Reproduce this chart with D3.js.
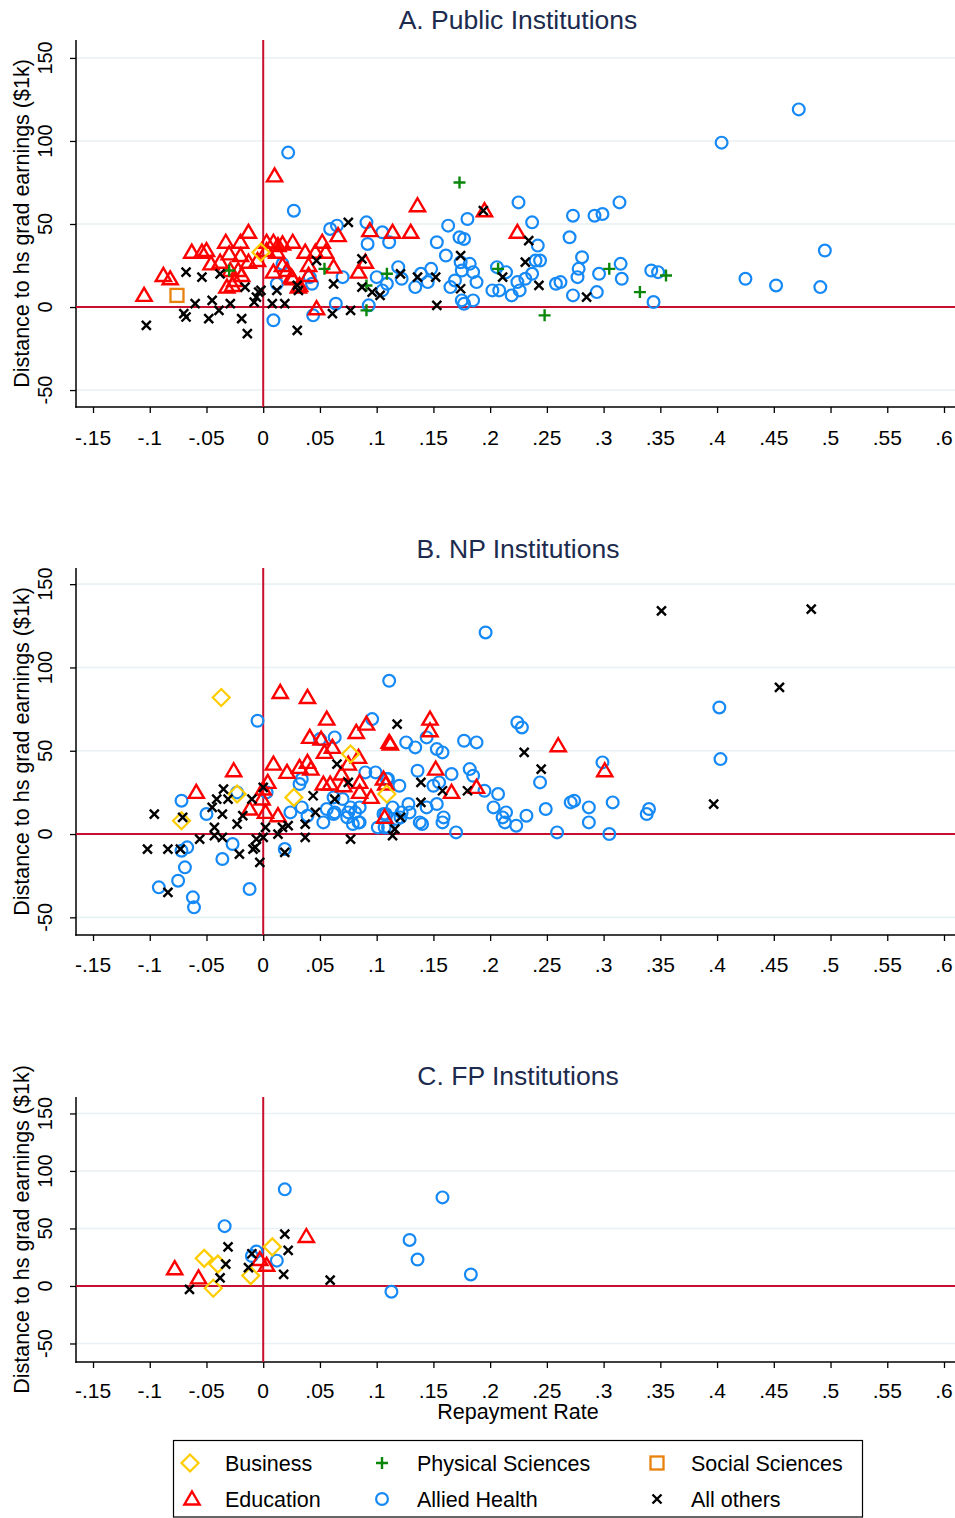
<!DOCTYPE html>
<html><head><meta charset="utf-8">
<script src="https://cdn.jsdelivr.net/npm/d3@7"></script>
<style>body{margin:0;background:#fff}svg{display:block}text{font-family:"Liberation Sans",Arial,sans-serif}</style>
</head><body><svg id="c" width="955" height="1518"></svg>
<script>
// ---------- data ----------
const categories = ["Business","Education","Physical Sciences","Social Sciences","Allied Health","All others"];
const panelTitles = ["A. Public Institutions","B. NP Institutions","C. FP Institutions"];
const xTicks = [-0.15,-0.1,-0.05,0,0.05,0.1,0.15,0.2,0.25,0.3,0.35,0.4,0.45,0.5,0.55,0.6];
const xTickLabels = ["-.15","-.1","-.05","0",".05",".1",".15",".2",".25",".3",".35",".4",".45",".5",".55",".6"];
const yTicks = [-50,0,50,100,150];

// Panel A: Public
const pubBusiness = [[-0.002,33]];
const pubEducation = [[0.010,79],[-0.013,45],[-0.033,39],[-0.020,39],[-0.063,33],[-0.054,33],[-0.050,34],[-0.038,27],[-0.046,26],[-0.030,32],[-0.020,31],[-0.013,27],[-0.005,28],[0.003,39],[0.009,39],[0.013,37],[0.017,38],[0.026,39],[0.037,33],[0.046,33],[0.052,39],[0.055,33],[0.066,43],[0.094,46],[0.114,45],[0.130,45],[0.136,61],[0.195,58],[0.224,45],[0.090,27],[0.084,21],[0.062,24],[0.040,25],[0.040,19],[0.032,13],[0.025,18],[0.009,21],[0.017,25],[0.021,22],[-0.029,22],[-0.022,22],[-0.019,19],[-0.025,16],[-0.032,12],[-0.027,13],[-0.088,19],[-0.082,17],[-0.105,7],[0.047,-1],[0.003,34],[0.012,33],[0.026,17],[0.031,12]];
const pubPhysical = [[-0.030,22],[0.054,23],[0.091,13],[0.091,-2],[0.109,20],[0.173,75],[0.207,23],[0.248,-5],[0.305,23],[0.332,9],[0.355,19]];
const pubSocial = [[-0.076,7]];
const pubHealth = [[0.022,93],[0.027,58],[0.009,-8],[0.012,14],[0.017,26],[0.041,18],[0.043,14],[0.044,-5],[0.059,47],[0.065,49],[0.070,18],[0.064,2],[0.091,51],[0.092,38],[0.093,1],[0.100,18],[0.105,45],[0.105,10],[0.111,39],[0.109,14],[0.119,24],[0.122,17],[0.134,12],[0.139,20],[0.145,15],[0.148,23],[0.153,39],[0.161,31],[0.163,49],[0.165,12],[0.169,16],[0.173,42],[0.175,22],[0.174,27],[0.175,4],[0.177,2],[0.177,41],[0.180,53],[0.182,26],[0.185,21],[0.188,15],[0.185,4],[0.202,10],[0.206,24],[0.208,10],[0.214,21],[0.219,7],[0.224,15],[0.225,63],[0.226,10],[0.231,17],[0.237,20],[0.237,51],[0.240,28],[0.244,28],[0.242,37],[0.258,14],[0.262,15],[0.270,42],[0.273,55],[0.273,7],[0.277,18],[0.278,23],[0.281,30],[0.292,55],[0.294,9],[0.296,20],[0.299,56],[0.314,63],[0.315,26],[0.316,17],[0.342,22],[0.348,21],[0.344,3],[0.404,99],[0.472,119],[0.425,17],[0.452,13],[0.491,12],[0.495,34]];
const pubOthers = [[-0.103,-11],[-0.068,21],[-0.054,18],[-0.070,-4],[-0.068,-6],[-0.060,2],[-0.048,-7],[-0.045,4],[-0.039,-2],[-0.029,2],[-0.019,-7],[-0.014,-16],[-0.008,3],[-0.006,6],[-0.004,9],[-0.002,10],[0.008,2],[0.019,2],[0.030,-14],[0.031,10],[0.030,13],[0.012,10],[-0.038,20],[-0.016,12],[0.062,14],[0.061,-4],[0.077,-2],[0.075,51],[0.087,29],[0.087,12],[0.096,9],[0.103,7],[0.121,20],[0.136,18],[0.152,18],[0.153,1],[0.174,31],[0.174,11],[0.194,58],[0.234,40],[0.231,27],[0.243,13],[0.285,6],[0.211,18],[0.047,28]];

// Panel B: NP
const npBusiness = [[-0.037,82],[-0.023,24],[-0.072,8],[0.027,22],[0.077,48],[0.109,24]];
const npEducation = [[0.015,85],[0.039,82],[0.056,69],[0.082,61],[0.091,66],[0.041,58],[0.051,57],[0.061,52],[0.054,49],[0.084,46],[0.075,42],[0.069,36],[0.111,55],[0.112,54],[0.009,42],[0.021,37],[0.032,40],[0.039,43],[0.042,39],[-0.026,38],[-0.059,25],[0.004,31],[0.000,27],[-0.001,21],[-0.012,15],[0.002,13],[0.013,11],[0.053,30],[0.059,30],[0.071,29],[0.085,31],[0.085,25],[0.095,22],[0.106,33],[0.108,30],[0.107,10],[0.147,69],[0.147,62],[0.152,39],[0.166,25],[0.188,28],[0.260,53],[0.301,38]];
const npPhysical = [];
const npSocial = [];
const npHealth = [[0.111,92],[-0.005,68],[0.096,69],[0.050,57],[0.063,58],[0.090,37],[0.099,37],[0.110,33],[0.034,33],[0.032,30],[0.003,25],[-0.023,25],[0.024,13],[0.034,16],[0.039,11],[-0.050,12],[-0.072,20],[0.062,22],[0.056,15],[0.053,7],[0.063,13],[0.070,21],[0.077,16],[0.085,16],[0.074,10],[0.079,6],[0.085,7],[0.101,4],[0.110,4],[0.114,16],[0.108,12],[0.019,-9],[-0.027,-6],[-0.036,-15],[-0.067,-8],[-0.072,-10],[-0.069,-20],[-0.075,-28],[-0.092,-32],[-0.062,-38],[-0.061,-44],[-0.012,-33],[0.196,121],[0.402,76],[0.403,45],[0.224,67],[0.228,64],[0.177,56],[0.188,55],[0.126,55],[0.134,52],[0.144,58],[0.153,51],[0.158,49],[0.244,31],[0.299,43],[0.136,38],[0.182,39],[0.185,35],[0.166,36],[0.120,29],[0.150,29],[0.155,31],[0.195,26],[0.207,24],[0.203,16],[0.214,13],[0.232,11],[0.249,15],[0.271,19],[0.274,20],[0.287,16],[0.287,7],[0.308,19],[0.340,15],[0.338,12],[0.259,1],[0.305,0],[0.170,1],[0.211,10],[0.213,7],[0.223,5],[0.153,18],[0.159,10],[0.158,7],[0.140,6],[0.138,7],[0.122,13],[0.129,13],[0.121,10],[0.109,33],[0.081,13],[0.084,7],[0.075,13],[0.118,9],[0.106,12],[0.107,4],[0.128,18],[0.144,16],[0.062,12]];
const npOthers = [[0.118,66],[0.065,42],[0.075,31],[0.044,23],[0.046,13],[0.037,6],[0.037,-2],[0.077,-3],[0.114,-1],[0.017,4],[0.013,0],[0.022,5],[0.002,4],[0.000,-2],[-0.006,-3],[-0.007,-8],[-0.009,-9],[-0.003,-17],[-0.021,-12],[-0.036,-2],[-0.043,-1],[-0.043,4],[-0.023,6],[-0.036,12],[-0.045,16],[-0.041,21],[-0.035,27],[-0.031,21],[-0.056,-3],[-0.096,12],[-0.102,-9],[-0.084,-9],[-0.073,-9],[-0.084,-35],[-0.071,10],[-0.018,11],[-0.010,21],[0.000,28],[0.019,-11],[0.063,21],[0.139,31],[0.139,19],[0.158,26],[0.180,26],[0.121,10],[0.116,3],[0.351,134],[0.483,135],[0.455,88],[0.397,18],[0.230,49],[0.245,39]];

// Panel C: FP
const fpBusiness = [[-0.052,24],[-0.040,19],[-0.044,-2],[-0.011,9],[0.008,34]];
const fpEducation = [[-0.078,15],[-0.057,7],[0.038,43],[-0.003,23],[0.003,18]];
const fpPhysical = [];
const fpSocial = [];
const fpHealth = [[0.019,84],[0.158,77],[-0.034,52],[0.129,40],[0.136,23],[0.183,10],[0.113,-5],[-0.006,30],[-0.010,26],[0.012,22]];
const fpOthers = [[-0.031,34],[-0.033,19],[-0.038,7],[-0.065,-3],[-0.013,16],[-0.010,28],[0.019,45],[0.022,31],[0.018,10],[0.059,5]];

// ---------- layout ----------
const svg = d3.select("#c");
const colors = {"Business":"#ffcc00","Education":"#ff0000","Physical Sciences":"#0a870a","Social Sciences":"#e8820c","Allied Health":"#1589f5","All others":"#000000"};

function marker(g, cat, x, y) {
  const c = colors[cat];
  const s = g.append("g").attr("transform", `translate(${x},${y})`);
  if (cat === "Allied Health") s.append("circle").attr("r", 5.9).attr("fill","none").attr("stroke",c).attr("stroke-width",2.2);
  else if (cat === "Education") s.append("path").attr("d","M0,-7.5L7.6,5.5L-7.6,5.5Z").attr("fill","none").attr("stroke",c).attr("stroke-width",2.4);
  else if (cat === "Business") s.append("path").attr("d","M0,-8.5L8.5,0L0,8.5L-8.5,0Z").attr("fill","none").attr("stroke",c).attr("stroke-width",2.2);
  else if (cat === "Social Sciences") s.append("rect").attr("x",-6.5).attr("y",-6.5).attr("width",13).attr("height",13).attr("fill","none").attr("stroke",c).attr("stroke-width",2.3);
  else if (cat === "Physical Sciences") s.append("path").attr("d","M-6,0H6M0,-6V6").attr("stroke",c).attr("stroke-width",2.4);
  else s.append("path").attr("d","M-4.5,-4.5L4.5,4.5M-4.5,4.5L4.5,-4.5").attr("stroke",c).attr("stroke-width",2.4);
}

const panels = [
  {title: panelTitles[0], titleY: 29, top: 40, bottom: 407, yDom: [-60.2,160.8], tickLabY: 445,
   series: [pubHealth, pubEducation, pubPhysical, pubSocial, pubBusiness, pubOthers]},
  {title: panelTitles[1], titleY: 558, top: 568, bottom: 935, yDom: [-60.6,159.7], tickLabY: 972,
   series: [npHealth, npEducation, npPhysical, npSocial, npBusiness, npOthers]},
  {title: panelTitles[2], titleY: 1085, top: 1097, bottom: 1362, yDom: [-66.1,164.3], tickLabY: 1398,
   series: [fpHealth, fpEducation, fpPhysical, fpSocial, fpBusiness, fpOthers]}
];
const drawCats = ["Allied Health","Education","Physical Sciences","Social Sciences","Business","All others"];
const left = 76, right = 955;

panels.forEach(p => {
  const x = d3.scaleLinear().domain([-0.165, 0.6097]).range([left, right]);
  const y = d3.scaleLinear().domain(p.yDom).range([p.bottom, p.top]);
  const g = svg.append("g");
  g.selectAll(".grid").data(yTicks).join("line")
    .attr("x1", left).attr("x2", right).attr("y1", d => y(d)).attr("y2", d => y(d))
    .attr("stroke", "#e8f1f3").attr("stroke-width", 1.6);
  g.append("text").attr("x", 518).attr("y", p.titleY).attr("text-anchor","middle")
    .attr("font-size", 26.5).attr("fill", "#1c2b4e").text(p.title);
  const ya = g.append("g").attr("transform", `translate(${left},0)`)
    .call(d3.axisLeft(y).tickValues(yTicks).tickSize(6).tickFormat(""));
  ya.select(".domain").remove();
  ya.selectAll(".tick line").attr("stroke","#000").attr("stroke-width",1.3);
  g.append("line").attr("x1", left).attr("x2", left).attr("y1", p.top).attr("y2", p.bottom + 0.7)
    .attr("stroke", "#000").attr("stroke-width", 1.5);
  g.selectAll(".ylab").data(yTicks).join("text")
    .attr("transform", d => `translate(52,${y(d)}) rotate(-90)`)
    .attr("text-anchor","middle").attr("font-size", 20).attr("fill","#000").text(d => d);
  g.append("text").attr("transform", `translate(29,${(p.top + p.bottom)/2}) rotate(-90)`)
    .attr("text-anchor","middle").attr("font-size", 21.5).attr("fill","#000")
    .text("Distance to hs grad earnings ($1k)");
  const xa = g.append("g").attr("transform", `translate(0,${p.bottom})`)
    .call(d3.axisBottom(x).tickValues(xTicks).tickSize(6).tickFormat(""));
  xa.select(".domain").remove();
  xa.selectAll(".tick line").attr("stroke","#000").attr("stroke-width",1.3);
  g.append("line").attr("x1", left - 0.7).attr("x2", right).attr("y1", p.bottom).attr("y2", p.bottom)
    .attr("stroke", "#000").attr("stroke-width", 1.5);
  g.selectAll(".xlab").data(xTicks).join("text")
    .attr("x", d => x(d)).attr("y", p.tickLabY).attr("text-anchor","middle")
    .attr("font-size", 21).attr("fill","#000").text((d, i) => xTickLabels[i]);
  g.append("line").attr("x1", left).attr("x2", right).attr("y1", y(0)).attr("y2", y(0))
    .attr("stroke", "#c8102e").attr("stroke-width", 2);
  g.append("line").attr("x1", x(0)).attr("x2", x(0)).attr("y1", p.top).attr("y2", p.bottom)
    .attr("stroke", "#c8102e").attr("stroke-width", 2);
  const mg = g.append("g");
  drawCats.forEach((cat, i) => {
    p.series[i].forEach(d => marker(mg, cat, x(d[0]), y(d[1])));
  });
});

svg.append("text").attr("x", 518).attr("y", 1419).attr("text-anchor","middle")
  .attr("font-size", 21.5).attr("fill","#000").text("Repayment Rate");

const lg = svg.append("g");
lg.append("rect").attr("x", 173.5).attr("y", 1440.5).attr("width", 689).attr("height", 76.5)
  .attr("fill","#fff").attr("stroke","#000").attr("stroke-width",1.2);
const legendItems = [
  {cat: categories[0], mx: 190, tx: 225, y: 1463},
  {cat: categories[1], mx: 192, tx: 225, y: 1499},
  {cat: categories[2], mx: 382, tx: 417, y: 1463},
  {cat: categories[4], mx: 382, tx: 417, y: 1499},
  {cat: categories[3], mx: 657, tx: 691, y: 1463},
  {cat: categories[5], mx: 657, tx: 691, y: 1499}
];
legendItems.forEach(it => {
  const s = lg.append("g");
  marker(s, it.cat, it.mx, it.y);
  lg.append("text").attr("x", it.tx).attr("y", it.y + 8).attr("font-size", 21.5).attr("fill","#000").text(it.cat);
});
</script></body></html>
